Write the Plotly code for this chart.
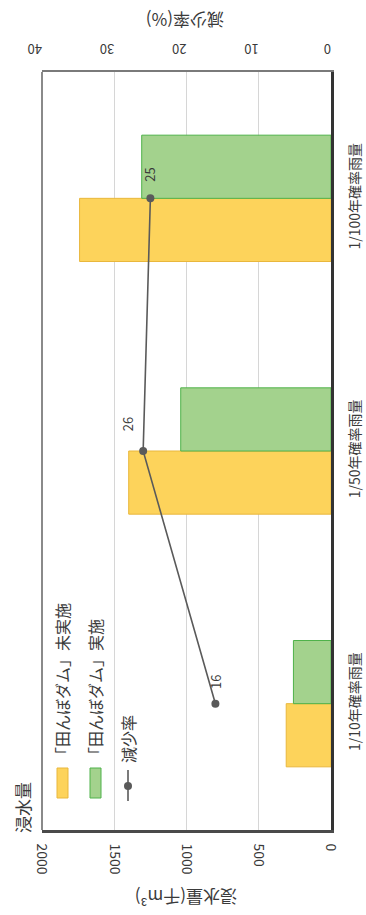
import plotly.graph_objects as go

# ---- data ----
categories = ["1/10年確率雨量", "1/50年確率雨量", "1/100年確率雨量"]
flood_without = [310, 1400, 1740]   # 「田んぼダム」未実施 (千m3)
flood_with = [260, 1040, 1310]      # 「田んぼダム」実施 (千m3)
reduction = [16, 26, 25]            # 減少率 (%)
flood_ticks = [0, 500, 1000, 1500, 2000]
rate_ticks = [0, 10, 20, 30, 40]

W, H = 366, 915
L, R, T, B = 42, 331, 72, 830


def px(x):
    return (x - L) / (R - L)


def py(y):
    return (B - y) / (B - T)


YELLOW, YELLOW_EDGE = "#FDD35B", "#E9B73C"
GREEN, GREEN_EDGE = "#A3D28D", "#4FB24A"
LINE = "#5a5a5a"
TXT = "#3a3a3a"
FONT = "Noto Sans CJK JP"

fig = go.Figure()
fig.add_trace(go.Bar(y=categories, x=flood_without, orientation="h",
                     name="「田んぼダム」未実施",
                     marker=dict(color=YELLOW, line=dict(color=YELLOW_EDGE, width=1))))
fig.add_trace(go.Bar(y=categories, x=flood_with, orientation="h",
                     name="「田んぼダム」実施",
                     marker=dict(color=GREEN, line=dict(color=GREEN_EDGE, width=1))))
fig.add_trace(go.Scatter(y=categories, x=reduction, xaxis="x2", mode="lines+markers",
                         name="減少率", line=dict(color=LINE, width=1.6),
                         marker=dict(color=LINE, size=8)))

# data labels for the reduction rate
label_shift = {"1/10年確率雨量": (0, 22), "1/50年確率雨量": (-16, 27), "1/100年確率雨量": (-1, 24)}
for c, v in zip(categories, reduction):
    dx, dy = label_shift[c]
    fig.add_annotation(x=v, y=c, xref="x2", yref="y", text=str(v), showarrow=False,
                       textangle=-90, xshift=dx, yshift=dy,
                       font=dict(size=13, color=TXT, family=FONT))

shapes = [
    dict(type="line", xref="paper", yref="paper", x0=0, x1=0, y0=0, y1=1,
         line=dict(color="#8a8a8a", width=2)),
]
# custom legend (rotated like the rest of the figure)
shapes += [
    dict(type="rect", xref="paper", yref="paper", x0=px(57), x1=px(68), y0=py(798), y1=py(768),
         fillcolor=YELLOW, line=dict(color=YELLOW_EDGE, width=1)),
    dict(type="rect", xref="paper", yref="paper", x0=px(90), x1=px(101), y0=py(798), y1=py(768),
         fillcolor=GREEN, line=dict(color=GREEN_EDGE, width=1)),
    dict(type="line", xref="paper", yref="paper", x0=px(128), x1=px(128), y0=py(801), y1=py(770),
         line=dict(color=LINE, width=1.6)),
    dict(type="circle", xref="paper", yref="paper", x0=px(124), x1=px(132), y0=py(790), y1=py(782),
         fillcolor=LINE, line=dict(color=LINE, width=0)),
]

annos = [
    dict(text="浸水量", x=px(22), y=py(808), size=17),
    dict(text="「田んぼダム」未実施", x=px(62), y=py(683), size=16),
    dict(text="「田んぼダム」実施", x=px(95), y=py(691), size=16),
    dict(text="減少率", x=px(128), y=py(739), size=16),
]
for a in annos:
    fig.add_annotation(xref="paper", yref="paper", x=a["x"], y=a["y"], text=a["text"],
                       textangle=-90, showarrow=False, xanchor="center",
                       yanchor="middle", font=dict(size=a["size"], color=TXT, family=FONT))

# axis titles (upside down)
fig.add_annotation(xref="paper", yref="paper", x=px(185), y=py(21), text="減少率(%)",
                   textangle=180, showarrow=False, xanchor="center", yanchor="middle",
                   font=dict(size=17, color=TXT, family=FONT))
fig.add_annotation(xref="paper", yref="paper", x=px(186), y=py(898), text="浸水量(千m³)",
                   textangle=180, showarrow=False, xanchor="center", yanchor="middle",
                   font=dict(size=17, color=TXT, family=FONT))

fig.update_layout(
    width=W, height=H,
    margin=dict(l=L, r=W - R, t=T, b=H - B, autoexpand=False),
    paper_bgcolor="white", plot_bgcolor="white",
    barmode="group", bargap=0.5, bargroupgap=0,
    showlegend=False,
    font=dict(family=FONT, color=TXT),
    shapes=shapes,
    xaxis=dict(range=[2000, 0], tickvals=flood_ticks, tickangle=90, automargin=False,
               showgrid=True, gridcolor="#d6d6d6", gridwidth=1, zeroline=False,
               showline=True, linecolor="#4a4a4a", linewidth=2.5, ticks="",
               ticklabelstandoff=8,
               tickfont=dict(size=14, color=TXT, family=FONT)),
    xaxis2=dict(range=[40, 0], tickvals=rate_ticks, tickangle=180, overlaying="x",
                side="top", showgrid=False, zeroline=False, automargin=False,
                showline=True, linecolor="#7a7a7a", linewidth=2, ticks="",
                ticklabelstandoff=8,
                tickfont=dict(size=13, color=TXT, family=FONT)),
    yaxis=dict(type="category", categoryorder="array", categoryarray=categories,
               range=[-0.5, 2.5], side="right", tickangle=-90, automargin=False,
               showgrid=False, zeroline=False, showline=True, linecolor="#333333",
               linewidth=2.5, ticks="", ticklabelstandoff=9,
               tickfont=dict(size=14, color=TXT, family=FONT)),
)

fig.write_html("out.html")
